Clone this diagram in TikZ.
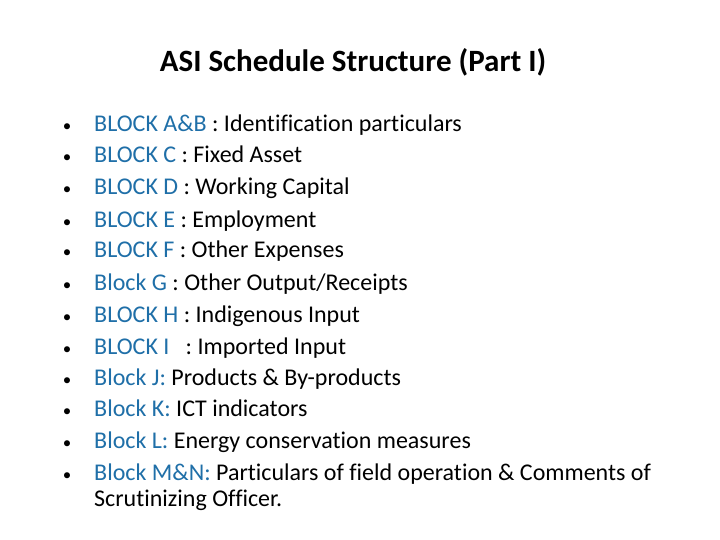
\documentclass[tikz,border=0pt]{standalone}
\usepackage{fontspec}
\setmainfont[Ligatures={NoCommon}]{Carlito}
\definecolor{blk}{HTML}{1F6FA8}
\begin{document}
\begin{tikzpicture}[x=1pt,y=-1pt,
  item/.style={anchor=base west,inner sep=0pt,font=\fontsize{24}{28}\selectfont},
  bul/.style={anchor=base,inner sep=0pt,font=\fontsize{17}{20}\selectfont}]
\useasboundingbox (0,0) rectangle (720,540);
\fill[white] (0,0) rectangle (720,540);
\node[anchor=base,inner sep=0pt,font=\bfseries\fontsize{31}{36}\selectfont] (title) at (353,72) {ASI Schedule Structure (Part I)};
\foreach \y/\a/\b [count=\i] in {
 132/{BLOCK A\&B}/{ : Identification particulars},
 163/{BLOCK C}/{ : Fixed Asset},
 195/{BLOCK D}/{ : Working Capital},
 227/{BLOCK E}/{ : Employment},
 258/{BLOCK F}/{ : Other Expenses},
 290/{Block G}/{ : Other Output/Receipts},
 322/{BLOCK H}/{ : Indigenous Input},
 354/{BLOCK I\ \ }/{ : Imported Input},
 385/{Block J:}/{ Products \& By-products},
 416/{Block K:}/{ ICT indicators},
 448/{Block L:}/{ Energy conservation measures},
 480/{Block M\&N:}/{ Particulars of field operation \& Comments of}}{
 \node[bul] (b\i) at (67,\y) {\textbullet};
 \node[item] (t\i) at (94,\y) {\textcolor{blk}{\a}\b};
}
\node[item] (t13) at (94,506) {Scrutinizing Officer.};
\end{tikzpicture}
\end{document}
